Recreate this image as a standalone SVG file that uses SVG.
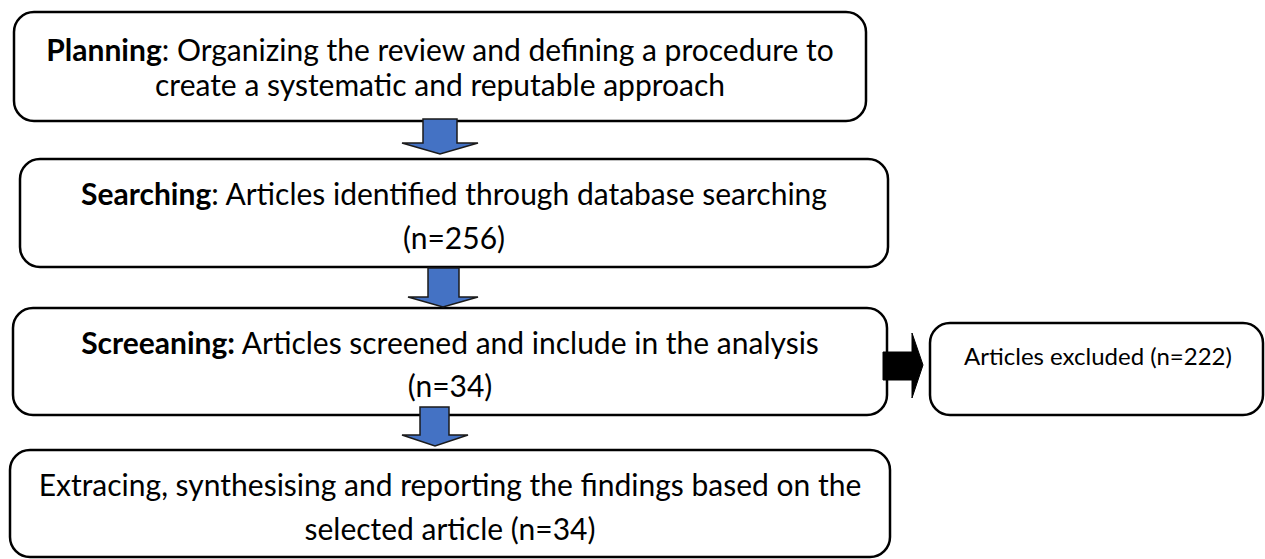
<svg xmlns="http://www.w3.org/2000/svg" width="1265" height="559" viewBox="0 0 1265 559">
<style>
.box{fill:#fff;stroke:#000;stroke-width:2.5}
.t{font-family:Lato,"Liberation Sans",sans-serif;font-size:30px;fill:#000;text-anchor:middle}
.s{font-size:24px}
.b{font-weight:bold}
.blue{fill:#4472C4;stroke:#1a1a1a;stroke-width:1.5;stroke-linejoin:miter}
.blk{fill:#000;stroke:#000;stroke-width:1}
</style>
<rect width="1265" height="559" fill="#fff"/>
<g id="planning">
<rect class="box" x="14" y="12" width="852" height="109" rx="20"/>
<text class="t" x="440" y="61"><tspan class="b">Planning</tspan>: Organizing the review and defining a procedure to</text>
<text class="t" x="440" y="96">create a systematic and reputable approach</text>
</g>
<g id="searching">
<rect class="box" x="20" y="159" width="868" height="108" rx="20"/>
<text class="t" x="454" y="205"><tspan class="b">Searching</tspan>: Articles identified through database searching</text>
<text class="t" x="454" y="249">(n=256)</text>
</g>
<g id="screening">
<rect class="box" x="13" y="308" width="874" height="107" rx="20"/>
<text class="t" x="450" y="354"><tspan class="b">Screeaning:</tspan> Articles screened and include in the analysis</text>
<text class="t" x="450" y="397">(n=34)</text>
</g>
<g id="extracting">
<rect class="box" x="10" y="450" width="880" height="107" rx="20"/>
<text class="t" x="450" y="496">Extracing, synthesising and reporting the findings based on the</text>
<text class="t" x="450" y="540">selected article (n=34)</text>
</g>
<g id="excluded">
<rect class="box" x="930" y="323" width="333" height="92" rx="20"/>
<text class="t s" x="1098" y="365">Articles excluded (n=222)</text>
</g>
<g id="connectors">
<polygon class="blue" points="423,119 457,119 457,143 478,143 440,154 402,143 423,143"/>
<polygon class="blue" points="428,268 459,268 459,297 478,297 443,307 408,297 428,297"/>
<polygon class="blue" points="420,407 449,407 449,435 468,435 435,446 402,435 420,435"/>
<polygon class="blk" points="883,352 912,352 912,333 923,365 912,398 912,380 883,380"/>
</g>
</svg>
